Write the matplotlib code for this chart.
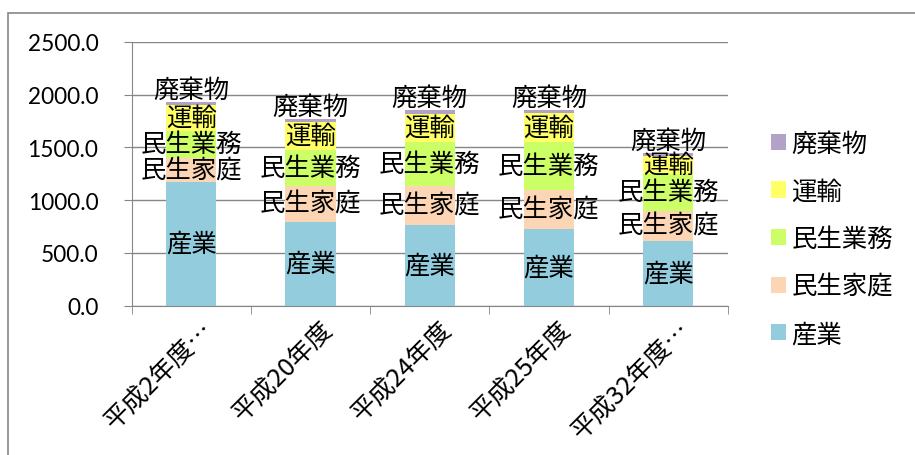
import numpy as np
import matplotlib.pyplot as plt
from matplotlib.patches import Rectangle, Patch
from matplotlib.transforms import ScaledTranslation

plt.rcParams['font.family'] = ['Noto Sans CJK JP', 'DejaVu Sans']

categories = ["平成2年度…", "平成20年度", "平成24年度", "平成25年度", "平成32年度…"]
series_names = ["産業", "民生家庭", "民生業務", "運輸", "廃棄物"]
sangyo = [1169, 795, 764, 726, 615]
minsei_katei = [230, 336, 367, 370, 284]
minsei_gyomu = [259, 347, 423, 452, 349]
unyu = [244, 260, 266, 275, 173]
haikibutsu = [32, 32, 35, 35, 26]
y_ticks = [0, 500, 1000, 1500, 2000, 2500]

colors = ["#93CDDD", "#FCD5B5", "#CCFF66", "#FFFF66", "#B3A2C7"]
series = [sangyo, minsei_katei, minsei_gyomu, unyu, haikibutsu]
FS = 18.3

fig = plt.figure(figsize=(9.15, 4.56), dpi=100)
fig.patches.append(Rectangle((8 / 915, -0.1), 1.2, 1 - 14 / 456 + 0.1,
                             transform=fig.transFigure, fill=False,
                             edgecolor="#868686", linewidth=1.2))
ax = fig.add_axes([131.7 / 915, 1 - 306.5 / 456, 596 / 915, 263.5 / 456])

x = np.arange(len(categories))
bottom = np.zeros(len(categories))
for name, vals, col in zip(series_names, series, colors):
    vals = np.array(vals, dtype=float)
    ax.bar(x, vals, width=0.42, bottom=bottom, color=col, label=name, zorder=2)
    for xi, b, v in zip(x, bottom, vals):
        dy = 10 if name == "廃棄物" else 0
        ax.annotate(name, (xi, b + v / 2), xytext=(0, dy), textcoords="offset points",
                    ha="center", va="center", fontsize=FS, zorder=3)
    bottom += vals

ax.set_xlim(-0.5, len(categories) - 0.5)
ax.set_ylim(0, 2500)
ax.set_yticks(y_ticks)
ax.set_yticklabels([f"{v:.1f}" for v in y_ticks], family=["Lato", "DejaVu Sans"], fontsize=16.3)
ax.yaxis.grid(True, color="#868686", linewidth=1, zorder=0)
ax.set_axisbelow(True)

ax.set_xticks(x)
ax.set_xticklabels(categories, rotation=45, ha="right", va="center",
                   rotation_mode="anchor", fontsize=FS)
ax.tick_params(axis="x", length=0, pad=14)
shift = ScaledTranslation(18 / 100, 0, fig.dpi_scale_trans)
for lab in ax.get_xticklabels():
    lab.set_transform(lab.get_transform() + shift)
ax.set_xticks(np.arange(len(categories) + 1) - 0.5, minor=True)
ax.tick_params(axis="x", which="minor", length=6, color="#868686")
ax.tick_params(axis="y", length=6, color="#868686", pad=18)

for s in ["top", "right"]:
    ax.spines[s].set_visible(False)
ax.spines["left"].set_color("#868686")
ax.spines["bottom"].set_color("#868686")

handles = [Patch(facecolor=c, label=n) for n, c in zip(series_names, colors)][::-1]
fig.legend(handles=handles, loc="center left", bbox_to_anchor=(771 / 915, 1 - 240 / 456),
           frameon=False, fontsize=FS, handlelength=0.6, handleheight=0.6,
           handletextpad=0.2, labelspacing=0.85, borderpad=0, borderaxespad=0)

fig.savefig("out.png", dpi=100)
